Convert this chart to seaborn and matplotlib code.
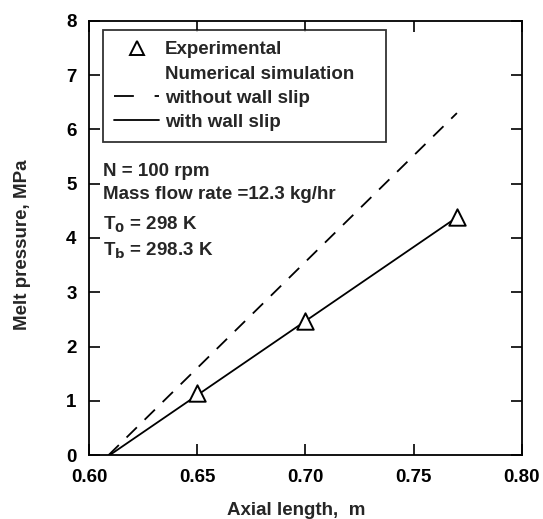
import pandas as pd
import matplotlib.pyplot as plt
import seaborn as sns
from matplotlib.lines import Line2D

sns.set_style('ticks')
plt.rcParams['font.family'] = ['Liberation Sans', 'DejaVu Sans']
plt.rcParams['font.weight'] = 'bold'
plt.rcParams['mathtext.default'] = 'bf'
plt.rcParams['font.size'] = 13.5

# Experimental data
exp_x = [0.65, 0.70, 0.77]
exp_y = [1.15, 2.47, 4.38]

# Numerical simulation end points
slip_x = [0.6095, 0.77]
slip_y = [0.0, 4.38]
noslip_x = [0.609, 0.77]
noslip_y = [0.0, 6.30]

x_ticks = [0.60, 0.65, 0.70, 0.75, 0.80]
y_ticks = [0, 1, 2, 3, 4, 5, 6, 7, 8]

fig = plt.figure(figsize=(5.43, 5.19), dpi=100)
ax = fig.add_axes([0.164, 0.123, 0.797, 0.837])

sns.lineplot(x=slip_x, y=slip_y, ax=ax, color='black', linewidth=1.3)
sns.lineplot(x=noslip_x, y=noslip_y, ax=ax, color='black', linewidth=1.3,
             linestyle=(0, (8, 6)))
sns.scatterplot(x=exp_x, y=exp_y, ax=ax, marker='^', s=140,
                facecolor='white', edgecolor='black', linewidth=1.4, zorder=3)

ax.set_xlim(0.60, 0.80)
ax.set_ylim(0, 8)
ax.set_xticks(x_ticks)
ax.set_xticklabels([f'{v:.2f}' for v in x_ticks])
ax.set_yticks(y_ticks)
ax.tick_params(direction='in', length=8, width=1.2, top=True, right=True,
               labelsize=13.5, colors='black')
ax.tick_params(axis='x', pad=10)
ax.tick_params(axis='y', pad=9)
for s in ax.spines.values():
    s.set_linewidth(1.3)
    s.set_color('black')

ax.set_xlabel('Axial length,  m', fontsize=13.5, fontweight='bold')
ax.set_ylabel('Melt pressure, MPa', fontsize=13.5, fontweight='bold')
ax.xaxis.set_label_coords(0.478, -0.108)
ax.yaxis.set_label_coords(-0.135, 0.484)

handles = [
    Line2D([], [], marker='^', linestyle='none', markerfacecolor='white',
           markeredgecolor='black', markersize=10, markeredgewidth=1.4),
    Line2D([], [], linestyle='none'),
    Line2D([], [], color='black', linestyle=(0, (11, 11.5)), linewidth=1.3),
    Line2D([], [], color='black', linewidth=1.3),
]
labels = ['Experimental', 'Numerical simulation    ', 'without wall slip', 'with wall slip']
leg = ax.legend(handles, labels, loc='upper left', bbox_to_anchor=(0.032, 0.979),
                borderaxespad=0, frameon=True, fancybox=False, handlelength=2.4,
                handletextpad=0.3, labelspacing=0.38, fontsize=13.5, borderpad=0.6)
leg.get_frame().set_edgecolor('black')
leg.get_frame().set_linewidth(1.3)

info = ['N = 100 rpm', 'Mass flow rate =12.3 kg/hr',
        r'T$_\mathbf{0}$ = 298 K', r'T$_\mathbf{b}$ = 298.3 K']
info_y = [5.23, 4.80, 4.24, 3.77]
for t, yy in zip(info, info_y):
    ax.text(0.6065, yy, t, fontsize=13.5, fontweight='bold', va='center', ha='left')

fig.savefig('out.png', dpi=100)
